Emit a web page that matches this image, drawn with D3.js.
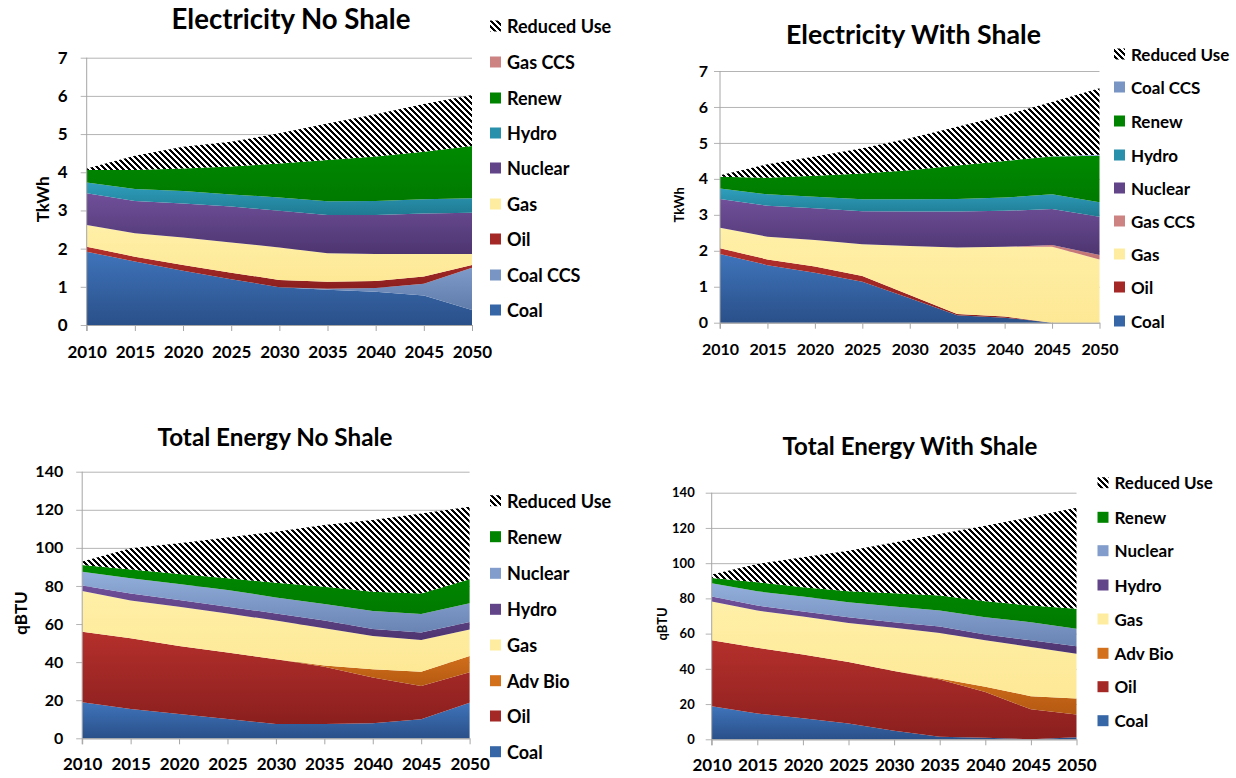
<!DOCTYPE html>
<html><head><meta charset="utf-8">
<script src="https://cdn.jsdelivr.net/npm/d3@7"></script>
<style>
html,body{margin:0;padding:0;background:#fff;}
svg text{font-family:Lato,"Open Sans",sans-serif;font-weight:700;fill:#000;}
</style></head>
<body>
<svg id="c" width="1236" height="778"></svg>
<script>
// ---------- DATA ----------
const years = [2010, 2015, 2020, 2025, 2030, 2035, 2040, 2045, 2050];

// Electricity No Shale (TkWh), layer thicknesses
const elecNoShaleCoal    = [1.92,1.66,1.42,1.20,0.99,0.92,0.87,0.77,0.39];
const elecNoShaleCoalCCS = [0,0,0,0,0,0.03,0.10,0.31,1.11];
const elecNoShaleOil     = [0.13,0.13,0.15,0.17,0.19,0.18,0.18,0.19,0.07];
const elecNoShaleGas     = [0.57,0.61,0.72,0.79,0.85,0.75,0.71,0.59,0.29];
const elecNoShaleNuclear = [0.83,0.85,0.89,0.94,0.96,1.00,1.02,1.06,1.08];
const elecNoShaleHydro   = [0.28,0.31,0.33,0.32,0.35,0.36,0.37,0.37,0.38];
const elecNoShaleRenew   = [0.33,0.50,0.59,0.73,0.89,1.08,1.16,1.25,1.37];
const elecNoShaleGasCCS  = [0,0,0,0,0,0,0,0,0];
const elecNoShaleReduced = [0.04,0.37,0.57,0.65,0.79,0.96,1.11,1.25,1.33];

// Electricity With Shale (TkWh)
const elecShaleCoal    = [1.91,1.60,1.39,1.14,0.68,0.21,0.14,0,0];
const elecShaleOil     = [0.16,0.16,0.17,0.16,0.09,0.03,0.03,0,0];
const elecShaleGas     = [0.57,0.63,0.74,0.88,1.36,1.85,1.94,2.11,1.76];
const elecShaleGasCCS  = [0,0,0,0,0,0,0,0.05,0.12];
const elecShaleNuclear = [0.80,0.86,0.88,0.92,0.96,1.00,1.00,1.00,1.07];
const elecShaleHydro   = [0.29,0.32,0.32,0.33,0.34,0.35,0.37,0.41,0.40];
const elecShaleRenew   = [0.33,0.46,0.59,0.72,0.81,0.93,1.02,1.05,1.29];
const elecShaleCoalCCS = [0,0,0,0,0,0,0,0.01,0.03];
const elecShaleReduced = [0.04,0.38,0.53,0.70,0.89,1.08,1.27,1.51,1.85];

// Total Energy No Shale (qBTU)
const totNoShaleCoal    = [18.9,15.4,12.8,10.2,7.5,7.5,7.9,10.0,18.7];
const totNoShaleOil     = [37.1,37.1,35.7,34.8,34.0,30.1,24.0,17.5,16.0];
const totNoShaleAdvBio  = [0,0,0,0,0,0.6,4.3,7.5,8.5];
const totNoShaleGas     = [21.4,19.8,20.6,20.6,20.3,19.6,17.5,16.6,14.0];
const totNoShaleHydro   = [2.8,3.8,3.5,3.5,3.8,4.0,3.7,3.9,3.9];
const totNoShaleNuclear = [7.3,7.9,8.4,8.8,8.4,8.7,9.5,9.8,9.8];
const totNoShaleRenew   = [3.5,4.7,5.3,6.1,7.7,9.1,10.1,10.8,12.6];
const totNoShaleReduced = [1.8,11.1,16.1,21.4,26.8,32.4,37.6,42.0,38.1];

// Total Energy With Shale (qBTU)
const totShaleCoal    = [18.8,14.7,11.9,9.0,4.9,1.5,0.9,0,1.1];
const totShaleOil     = [37.4,37.3,36.2,34.9,33.9,32.4,26.0,17.0,13.0];
const totShaleAdvBio  = [0,0,0,0,0,0.6,2.9,7.5,9.1];
const totShaleGas     = [22.0,21.1,21.6,22.1,24.5,25.8,26.4,27.9,25.4];
const totShaleHydro   = [2.8,2.8,2.8,3.3,3.2,3.8,3.3,3.8,4.2];
const totShaleNuclear = [7.6,8.1,8.5,8.5,8.9,9.0,9.8,10.3,9.9];
const totShaleRenew   = [3.0,5.1,5.3,6.2,7.5,8.5,9.1,9.4,11.4];
const totShaleReduced = [1.9,10.4,17.0,23.0,28.8,34.9,42.8,50.3,57.4];

const elecTicks = [0,1,2,3,4,5,6,7];
const totTicks  = [0,20,40,60,80,100,120,140];

// ---------- STYLES ----------
const colors = {
  coal:    ["#3f74bb","#2a5089"],
  coalccsE:["#8aa6d4","#5f7cab"],
  oil:     ["#b5302c","#8a1f1e"],
  gas:     ["#fff0a8","#fde895"],
  nucE:    ["#70509a","#4d3570"],
  hydroE:  ["#2f9fbd","#1f7a92"],
  renew:   ["#008a00","#007a00"],
  gasccs:  ["#d89090","#c07070"],
  advbio:  ["#e67e22","#b55a12"],
  nucT:    ["#93afdb","#6983b3"],
  hydroT:  ["#70509a","#4d3570"]
};

const panels = [
  { id:"p1", title:"Electricity No Shale", titleX:291, titleY:29, titleW:239, titleSize:27,
    unit:"TkWh", unitX:42, unitSize:17, x0:86.7, x1:472, yb:325, yt:57.7, ticks:elecTicks,
    ytSize:17, ytPad:19, xtSize:17, xtY:351, legX:490, legSize:18,
    legY:[26,62,98,133,168,204,239,275,310],
    series:[
      ["Coal", elecNoShaleCoal, "coal"],
      ["Coal CCS", elecNoShaleCoalCCS, "coalccsE"],
      ["Oil", elecNoShaleOil, "oil"],
      ["Gas", elecNoShaleGas, "gas"],
      ["Nuclear", elecNoShaleNuclear, "nucE"],
      ["Hydro", elecNoShaleHydro, "hydroE"],
      ["Renew", elecNoShaleRenew, "renew"],
      ["Gas CCS", elecNoShaleGasCCS, "gasccs"],
      ["Reduced Use", elecNoShaleReduced, "hatch"]
    ]},
  { id:"p2", title:"Electricity With Shale", titleX:913.5, titleY:44, titleW:255, titleSize:23,
    unit:"TkWh", unitX:679, unitSize:13, x0:720, x1:1099.5, yb:322.7, yt:71, ticks:elecTicks,
    ytSize:16, ytPad:12, xtSize:16, xtY:348, legX:1114, legSize:17,
    legY:[54,87,121,155,188,221,254,287,321],
    series:[
      ["Coal", elecShaleCoal, "coal"],
      ["Oil", elecShaleOil, "oil"],
      ["Gas", elecShaleGas, "gas"],
      ["Gas CCS", elecShaleGasCCS, "gasccs"],
      ["Nuclear", elecShaleNuclear, "nucE"],
      ["Hydro", elecShaleHydro, "hydroE"],
      ["Renew", elecShaleRenew, "renew"],
      ["Coal CCS", elecShaleCoalCCS, "coalccsE"],
      ["Reduced Use", elecShaleReduced, "hatch"]
    ]},
  { id:"p3", title:"Total Energy No Shale", titleX:275, titleY:446, titleW:235, titleSize:21,
    unit:"qBTU", unitX:20, unitSize:17, x0:82.2, x1:469.6, yb:738.3, yt:471.7, ticks:totTicks,
    ytSize:16, ytPad:19, xtSize:17, xtY:763, legX:490, legSize:18,
    legY:[500.7,536.7,573.3,609.3,645,680.7,716,751.7],
    series:[
      ["Coal", totNoShaleCoal, "coal"],
      ["Oil", totNoShaleOil, "oil"],
      ["Adv Bio", totNoShaleAdvBio, "advbio"],
      ["Gas", totNoShaleGas, "gas"],
      ["Hydro", totNoShaleHydro, "hydroT"],
      ["Nuclear", totNoShaleNuclear, "nucT"],
      ["Renew", totNoShaleRenew, "renew"],
      ["Reduced Use", totNoShaleReduced, "hatch"]
    ]},
  { id:"p4", title:"Total Energy With Shale", titleX:910, titleY:455, titleW:255, titleSize:21,
    unit:"qBTU", unitX:662, unitSize:13, x0:711.7, x1:1076.5, yb:739.3, yt:492.7, ticks:totTicks,
    ytSize:13, ytPad:17, xtSize:17, xtY:764, legX:1097.5, legSize:17,
    legY:[482.7,517.3,550.7,585,619,653.3,686.7,720.7],
    series:[
      ["Coal", totShaleCoal, "coal"],
      ["Oil", totShaleOil, "oil"],
      ["Adv Bio", totShaleAdvBio, "advbio"],
      ["Gas", totShaleGas, "gas"],
      ["Hydro", totShaleHydro, "hydroT"],
      ["Nuclear", totShaleNuclear, "nucT"],
      ["Renew", totShaleRenew, "renew"],
      ["Reduced Use", totShaleReduced, "hatch"]
    ]}
];
// legend orders (top to bottom)
const legendOrders = {
  p1:["Reduced Use","Gas CCS","Renew","Hydro","Nuclear","Gas","Oil","Coal CCS","Coal"],
  p2:["Reduced Use","Coal CCS","Renew","Hydro","Nuclear","Gas CCS","Gas","Oil","Coal"],
  p3:["Reduced Use","Renew","Nuclear","Hydro","Gas","Adv Bio","Oil","Coal"],
  p4:["Reduced Use","Renew","Nuclear","Hydro","Gas","Adv Bio","Oil","Coal"]
};

// ---------- DRAW ----------
const svg = d3.select("#c");
const defs = svg.append("defs");
// "\" diagonal hatch, 6px tile, pixel-crisp
const hatch = defs.append("pattern").attr("id","hatch").attr("patternUnits","userSpaceOnUse")
  .attr("x",0).attr("y",0).attr("width",6).attr("height",6);
hatch.append("rect").attr("width",6).attr("height",6).attr("fill","#fff");
hatch.append("path").attr("d","M0,0L3,0L6,3L6,6Z M0,3L3,6L0,6Z").attr("fill","#000")
  .attr("shape-rendering","crispEdges");

Object.entries(colors).forEach(([k,c])=>{
  const g = defs.append("linearGradient").attr("id","g_"+k).attr("x1",0).attr("y1",0).attr("x2",0).attr("y2",1);
  g.append("stop").attr("offset","0%").attr("stop-color",c[0]);
  g.append("stop").attr("offset","100%").attr("stop-color",c[1]);
});
const fillOf = k => k==="hatch" ? "url(#hatch)" : "url(#g_"+k+")";
const swatchOf = k => k==="hatch" ? "url(#hatch)" : d3.interpolateRgb(colors[k][0],colors[k][1])(0.4);

function fitText(sel, w){
  const node = sel.node();
  const len = node.getComputedTextLength();
  if (len>0){
    const fs = parseFloat(sel.attr("font-size"));
    sel.attr("font-size", (fs*w/len).toFixed(2));
  }
}

panels.forEach(p=>{
  const g = svg.append("g").attr("id",p.id);
  const x = d3.scaleLinear().domain([years[0], years[years.length-1]]).range([p.x0,p.x1]);
  const yMax = p.ticks[p.ticks.length-1];
  const y = d3.scaleLinear().domain([0,yMax]).range([p.yb,p.yt]);

  // gridlines + y tick labels
  const yAxis = d3.axisLeft(y).tickValues(p.ticks).tickFormat(d3.format("d"))
    .tickSize(-(p.x1-p.x0)).tickSizeOuter(0).tickPadding(p.ytPad);
  const ya = g.append("g").attr("transform",`translate(${p.x0},0)`).call(yAxis);
  ya.select(".domain").remove();
  ya.selectAll(".tick line").attr("stroke","#b4b4b4").attr("x1",-6);
  ya.selectAll(".tick text").attr("font-size",p.ytSize).attr("font-family","Lato, sans-serif").attr("font-weight",700).attr("fill","#000");

  // stacked areas
  const rows = years.map((yr,i)=>{
    const r = {year:yr};
    p.series.forEach(s=>{ r[s[0]] = s[1][i]; });
    return r;
  });
  const keys = p.series.map(s=>s[0]);
  const stack = d3.stack().keys(keys)(rows);
  const area = d3.area().x(d=>x(d.data.year)).y0(d=>y(d[0])).y1(d=>y(d[1]));
  g.append("g").selectAll("path").data(stack).join("path")
    .attr("d",area)
    .attr("fill",(d,i)=>fillOf(p.series[i][2]));

  // axes lines
  g.append("line").attr("x1",p.x0).attr("x2",p.x0).attr("y1",p.yt).attr("y2",p.yb+6)
    .attr("stroke","#a6a6a6").attr("stroke-width",1);
  const xAxis = d3.axisBottom(x).tickValues(years).tickFormat(d3.format("d")).tickSize(6).tickSizeOuter(0).tickPadding(9);
  const xa = g.append("g").attr("transform",`translate(0,${p.yb})`).call(xAxis);
  xa.select(".domain").attr("stroke","#a6a6a6");
  xa.selectAll(".tick line").attr("stroke","#a6a6a6");
  xa.selectAll(".tick text").attr("font-size",p.xtSize).attr("font-family","Lato, sans-serif").attr("font-weight",700).attr("fill","#000")
    .attr("y",null).attr("dy",null).attr("dominant-baseline","central")
    .attr("transform",`translate(0,${p.xtY-p.yb})`);

  // title
  const t = g.append("text").attr("x",p.titleX).attr("y",p.titleY).attr("text-anchor","middle")
    .attr("font-size",p.titleSize).text(p.title);
  fitText(t,p.titleW);

  // unit label
  const uy = (p.yb+p.yt)/2 + 8;
  g.append("text").attr("transform",`translate(${p.unitX},${uy}) rotate(-90)`)
    .attr("text-anchor","middle").attr("dominant-baseline","central")
    .attr("font-size",p.unitSize).text(p.unit);

  // legend
  const lg = g.append("g");
  legendOrders[p.id].forEach((name,i)=>{
    const s = p.series.find(q=>q[0]===name);
    const cy = p.legY[i];
    lg.append("rect").attr("x",p.legX).attr("y",cy-5.5).attr("width",11).attr("height",11)
      .attr("fill",swatchOf(s[2]));
    lg.append("text").attr("x",p.legX+17).attr("y",cy).attr("dominant-baseline","central")
      .attr("font-size",p.legSize).text(name);
  });
});
</script>
</body></html>
